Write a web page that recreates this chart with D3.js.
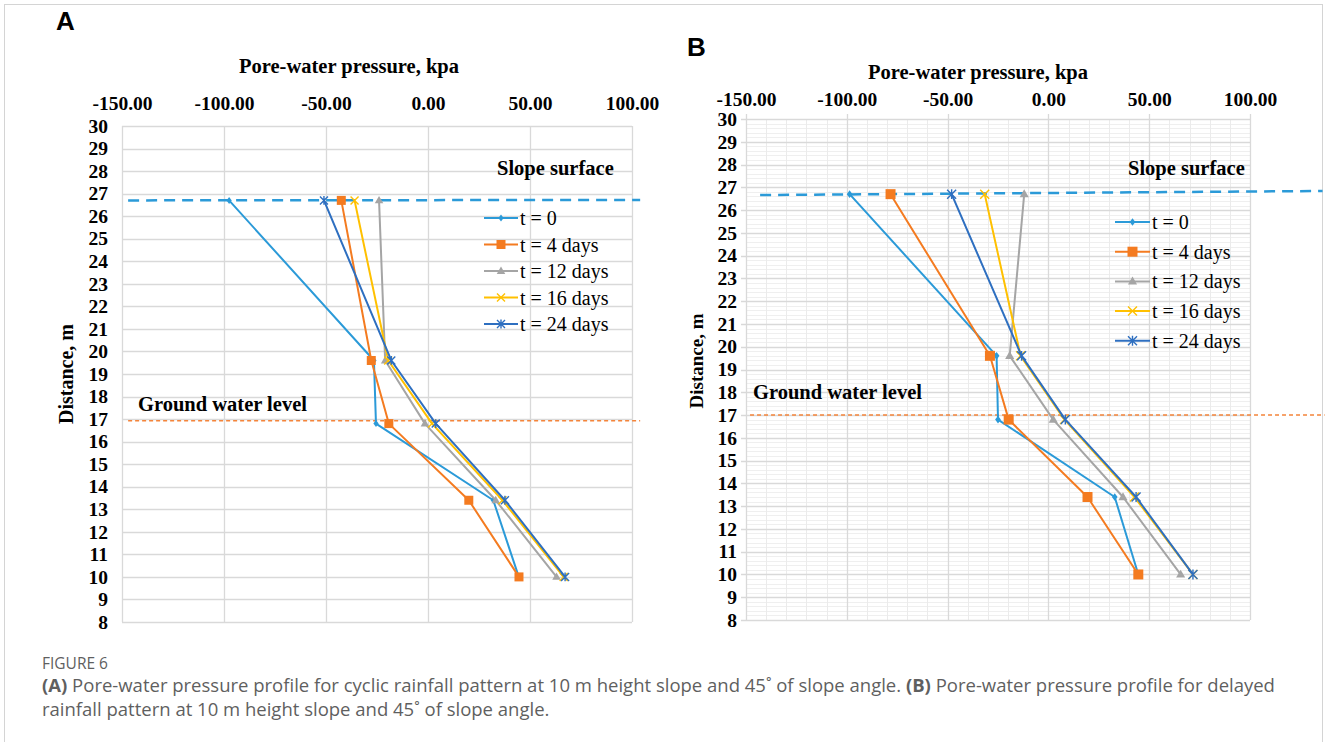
<!DOCTYPE html>
<html lang="en">
<head>
  <meta charset="UTF-8">
  <title>Pore-water pressure profiles</title>
  <style>
  body { margin: 0; background: #fff; }
  </style>
</head>
<body>
  <script src="https://d3js.org/d3.v7.min.js"></script>
  <script type="text/javascript">

    // depth of each output point, m (same points for every time step)
    var depth = [26.7, 19.6, 16.8, 13.4, 10.0];
    var seriesNames = ["t = 0", "t = 4 days", "t = 12 days", "t = 16 days", "t = 24 days"];
    var pressureTicks = [-150, -100, -50, 0, 50, 100];
    var distanceTicks = d3.range(8, 31);

    // (A) cyclic rainfall, pore-water pressure in kPa
    var cyclicT0  = [-97.5, -26.5, -25.5, 32.0, 44.5];
    var cyclicT4  = [-42.5, -27.8, -19.2, 20.0, 44.6];
    var cyclicT12 = [-24.0, -21.0, -1.5, 33.2, 63.0];
    var cyclicT16 = [-36.0, -19.5, 2.0, 36.5, 66.5];
    var cyclicT24 = [-51.0, -18.0, 3.8, 37.7, 67.2];

    // (B) delayed rainfall, pore-water pressure in kPa
    var delayedT0  = [-98.6, -25.7, -25.0, 32.9, 44.6];
    var delayedT4  = [-78.3, -29.0, -19.7, 19.4, 44.6];
    var delayedT12 = [-12.0, -19.2, 2.4, 37.0, 65.6];
    var delayedT16 = [-31.6, -13.8, 8.0, 42.7, 71.7];
    var delayedT24 = [-48.0, -13.3, 8.4, 43.5, 71.7];

    // reference lines: [pressure, distance] end points
    var slopeLineA = [[-147, 26.7], [104, 26.72]];
    var waterLineA = [[-147, 16.93], [104, 16.93]];
    var slopeLineB = [[-143, 26.66], [136, 26.84]];
    var waterLineB = [[-148, 17.0], [137, 17.0]];

    var colors = ["#2b9ad8", "#f47b20", "#a5a5a5", "#ffc000", "#2e6fc0"];
    var shapes = ["diamond", "square", "triangle", "cross", "star"];

    var serif = "'Liberation Serif', 'Times New Roman', serif";
    var width = 1328;
    var height = 742;
    var svg = d3.select("body")
        .append("svg")
          .attr("width", width)
          .attr("height", height)
          .attr("font-family", serif);

    svg.append("rect").attr("width", width).attr("height", height).attr("fill", "#fff");
    svg.append("rect")
        .attr("x", 4.5).attr("y", 4.5)
        .attr("width", 1318).attr("height", 800)
        .attr("fill", "none").attr("stroke", "#d4d4d4");

    function drawMarker(g, kind, color, r) {
      if (kind == "diamond") {
        g.append("path").attr("d", "M0," + (-r) + "L" + r * 0.75 + ",0L0," + r + "L" + (-r * 0.75) + ",0Z").attr("fill", color);
      } else if (kind == "square") {
        g.append("path").attr("d", "M" + (-r) + "," + (-r) + "H" + r + "V" + r + "H" + (-r) + "Z").attr("fill", color);
      } else if (kind == "triangle") {
        g.append("path").attr("d", "M0," + (-r) + "L" + r * 0.95 + "," + r * 0.65 + "L" + (-r * 0.95) + "," + r * 0.65 + "Z").attr("fill", color);
      } else {
        var p = "M" + (-r) + "," + (-r) + "L" + r + "," + r + "M" + (-r) + "," + r + "L" + r + "," + (-r);
        if (kind == "star") p += "M0," + (-r * 1.1) + "V" + r * 1.1;
        g.append("path").attr("d", p).attr("stroke", color).attr("stroke-width", 1.4).attr("fill", "none");
      }
    }

    function drawPanel(p) {
      var g = svg.append("g");
      var x = d3.scaleLinear().domain([-150, 100]).range([p.left, p.right]);
      var y = d3.scaleLinear().domain([8, 30]).range([p.bottom, p.top]);

      // minor grid
      if (p.minor) {
        g.append("g").selectAll("line")
            .data(d3.range(8.2, 30, 0.2))
            .enter().append("line")
            .attr("x1", p.left).attr("x2", p.right)
            .attr("y1", function(d){ return Math.round(y(d)) + 0.5; })
            .attr("y2", function(d){ return Math.round(y(d)) + 0.5; })
            .attr("stroke", "#efefef");
        g.append("g").selectAll("line")
            .data(d3.range(-140, 100, 10))
            .enter().append("line")
            .attr("x1", function(d){ return Math.round(x(d)) + 0.5; })
            .attr("x2", function(d){ return Math.round(x(d)) + 0.5; })
            .attr("y1", p.top).attr("y2", p.bottom)
            .attr("stroke", "#ebebeb");
      }

      // major grid
      g.append("g").selectAll("line")
          .data(distanceTicks)
          .enter().append("line")
          .attr("x1", p.left - p.tick).attr("x2", p.right)
          .attr("y1", function(d){ return Math.round(y(d)) + 0.5; })
          .attr("y2", function(d){ return Math.round(y(d)) + 0.5; })
          .attr("stroke", "#d9d9d9").attr("stroke-width", 1.3);
      g.append("g").selectAll("line")
          .data(pressureTicks)
          .enter().append("line")
          .attr("x1", function(d){ return Math.round(x(d)) + 0.5; })
          .attr("x2", function(d){ return Math.round(x(d)) + 0.5; })
          .attr("y1", p.top - p.tick).attr("y2", p.bottom)
          .attr("stroke", "#d9d9d9").attr("stroke-width", 1.3);

      // axes
      var xAxis = g.append("g")
          .attr("transform", "translate(0," + p.top + ")")
          .call(d3.axisTop(x).tickValues(pressureTicks).tickSize(0).tickPadding(p.xPad)
                .tickFormat(function(d){ return d.toFixed(2); }));
      var yAxis = g.append("g")
          .attr("transform", "translate(" + p.left + ",0)")
          .call(d3.axisLeft(y).tickValues(distanceTicks).tickSize(0).tickPadding(p.yPad));
      [xAxis, yAxis].forEach(function(a){
        a.select(".domain").remove();
        a.selectAll("text")
            .attr("font-family", serif)
            .attr("font-weight", "bold")
            .attr("font-size", p.tickFont)
            .attr("fill", "#000");
      });

      g.append("text")
          .attr("x", p.titleX).attr("y", p.titleY)
          .attr("text-anchor", "middle")
          .attr("font-weight", "bold").attr("font-size", p.titleFont)
          .text("Pore-water pressure, kpa");
      g.append("text")
          .attr("transform", "translate(" + p.yTitleX + "," + p.yTitleY + ") rotate(-90)")
          .attr("text-anchor", "middle")
          .attr("font-weight", "bold").attr("font-size", p.yTitleFont)
          .text("Distance, m");
      g.append("text")
          .attr("x", p.letterX).attr("y", p.letterY)
          .attr("font-family", "'Liberation Sans', Arial, sans-serif")
          .attr("font-weight", "bold").attr("font-size", 26)
          .text(p.letter);

      var line = d3.line()
          .x(function(d){ return x(d[0]); })
          .y(function(d){ return y(d[1]); });

      // slope surface and ground water level
      g.append("path").attr("d", line(p.slope))
          .attr("fill", "none").attr("stroke", "#2b9ad8")
          .attr("stroke-width", 2.5).attr("stroke-dasharray", "11,7");
      g.append("path").attr("d", line(p.water))
          .attr("fill", "none").attr("stroke", "#f4843a")
          .attr("stroke-width", 1.5).attr("stroke-dasharray", "4,3");

      g.append("text")
          .attr("x", p.slopeX).attr("y", p.slopeY)
          .attr("font-weight", "bold").attr("font-size", p.noteFont)
          .text("Slope surface");
      g.append("text")
          .attr("x", p.waterX).attr("y", p.waterY)
          .attr("font-weight", "bold").attr("font-size", p.noteFont)
          .text("Ground water level");

      // series
      p.series.forEach(function(vals, i){
        var pts = vals.map(function(v, k){ return [v, depth[k]]; });
        g.append("path").attr("d", line(pts))
            .attr("fill", "none").attr("stroke", colors[i])
            .attr("stroke-width", 2).attr("stroke-linejoin", "round");
        pts.forEach(function(d){
          var m = g.append("g").attr("transform", "translate(" + x(d[0]) + "," + y(d[1]) + ")");
          drawMarker(m, shapes[i], colors[i], p.markerR[i]);
        });
      });

      // legend
      var leg = g.append("g");
      seriesNames.forEach(function(name, i){
        var ly = p.legY + i * p.legStep;
        leg.append("line")
            .attr("x1", p.legX).attr("x2", p.legX + p.legLen)
            .attr("y1", ly).attr("y2", ly)
            .attr("stroke", colors[i]).attr("stroke-width", 2);
        var m = leg.append("g").attr("transform", "translate(" + (p.legX + p.legLen / 2) + "," + ly + ")");
        drawMarker(m, shapes[i], colors[i], p.markerR[i]);
        leg.append("text")
            .attr("x", p.legX + p.legLen + 2).attr("y", ly)
            .attr("dy", "0.35em")
            .attr("font-size", p.legFont)
            .text(name);
      });
    }

    drawPanel({
      letter: "A", letterX: 56, letterY: 30,
      left: 122, right: 632, top: 126, bottom: 622, tick: 0, minor: false,
      xPad: 16, yPad: 14, tickFont: 19.5, titleFont: 20.5, yTitleFont: 20, noteFont: 20.5, legFont: 20,
      titleX: 349, titleY: 73, yTitleX: 73, yTitleY: 374,
      slope: slopeLineA, water: waterLineA,
      slopeX: 497, slopeY: 175, waterX: 138, waterY: 411,
      series: [cyclicT0, cyclicT4, cyclicT12, cyclicT16, cyclicT24],
      markerR: [3.5, 4.5, 4.5, 4, 4],
      legX: 484, legY: 218, legStep: 26.5, legLen: 34
    });

    drawPanel({
      letter: "B", letterX: 687, letterY: 56,
      left: 746, right: 1250, top: 119, bottom: 620, tick: 5, minor: true,
      xPad: 13, yPad: 9, tickFont: 19.5, titleFont: 20.5, yTitleFont: 19, noteFont: 20.5, legFont: 20,
      titleX: 978, titleY: 79, yTitleX: 703, yTitleY: 361,
      slope: slopeLineB, water: waterLineB,
      slopeX: 1128, slopeY: 175, waterX: 753, waterY: 399,
      series: [delayedT0, delayedT4, delayedT12, delayedT16, delayedT24],
      markerR: [3.8, 5, 4.8, 4.5, 4.5],
      legX: 1115, legY: 222, legStep: 29.7, legLen: 35
    });

    // caption
    var cap = svg.append("g")
        .attr("font-family", "'Open Sans', 'Noto Sans', sans-serif")
        .attr("fill", "#5f5f5f");
    cap.append("text")
        .attr("x", 42).attr("y", 669)
        .attr("font-size", 15.5)
        .text("FIGURE 6");
    var l1 = cap.append("text").attr("x", 42).attr("y", 692).attr("font-size", 18.5);
    l1.append("tspan").attr("font-weight", "bold").text("(A)");
    l1.append("tspan").text(" Pore-water pressure profile for cyclic rainfall pattern at 10 m height slope and 45\u02DA of slope angle. ");
    l1.append("tspan").attr("font-weight", "bold").text("(B)");
    l1.append("tspan").text(" Pore-water pressure profile for delayed");
    cap.append("text").attr("x", 42).attr("y", 716).attr("font-size", 18.5)
        .text("rainfall pattern at 10 m height slope and 45\u02DA of slope angle.");
  </script>
</body>
</html>
